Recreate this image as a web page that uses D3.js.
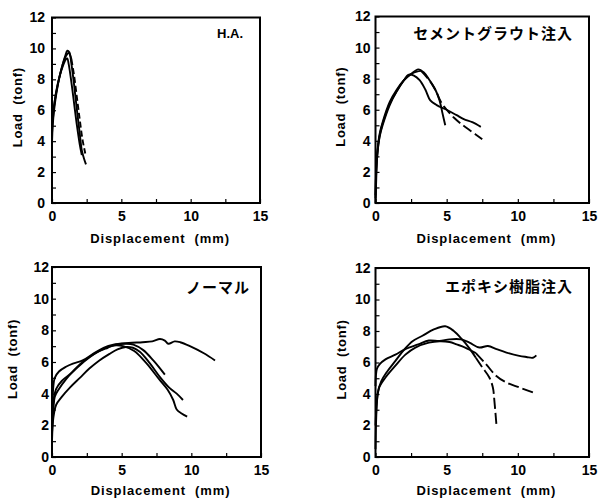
<!DOCTYPE html>
<html>
<head>
<meta charset="utf-8">
<script src="https://cdn.jsdelivr.net/npm/d3@7"></script>
<style>
  body { margin: 0; background: #fff; }
  svg text { font-family: "Liberation Sans", Arial, sans-serif; font-weight: bold; fill: #000; }
</style>
</head>
<body>
<svg id="chart"></svg>
<script>
let svgWidth = 600, svgHeight = 499

// tick values
const xTicks = [0, 5, 10, 15]
const yTicks = [0, 2, 4, 6, 8, 10, 12]
const xMinor = [0, 2.5, 5, 7.5, 10, 12.5, 15]
const yMinor = d3.range(0, 13, 1)

// H.A.  [displacement mm, load tonf]
const haA = [[0,3.8],[0.05,5.0],[0.15,6.0],[0.3,7.0],[0.5,8.0],[0.75,8.9],[0.95,9.5],[1.1,9.85],[1.25,9.75],[1.4,9.0],[1.6,7.6],[1.8,6.0],[2.0,4.5],[2.15,3.4],[2.3,2.9],[2.45,2.5]]
const haB = [[0,4.5],[0.1,5.8],[0.3,7.2],[0.55,8.2],[0.8,8.9],[1.0,9.3],[1.1,9.35],[1.2,9.0],[1.4,7.8],[1.6,6.4],[1.8,5.0],[2.0,3.8],[2.15,3.1]]
const haC = [[0,5.2],[0.2,6.6],[0.45,7.8],[0.75,8.9],[1.0,9.5],[1.2,9.7],[1.4,9.3],[1.6,8.2],[1.8,6.8],[2.0,5.4],[2.2,4.1],[2.4,3.2]]

// セメントグラウト注入
const sgA = [[0,0],[0.05,1.5],[0.1,2.8],[0.2,3.8],[0.35,4.6],[0.6,5.4],[1.0,6.4],[1.5,7.2],[2.0,7.9],[2.5,8.3],[3.0,8.6],[3.4,8.4],[3.8,7.9],[4.2,7.3],[4.5,6.6],[4.7,5.8],[4.9,5.0]]
const sgB = [[0,0.5],[0.05,2.0],[0.15,3.3],[0.3,4.3],[0.5,5.0],[1.0,6.3],[1.5,7.2],[2.0,7.9],[2.3,8.25],[2.7,8.2],[3.1,7.9],[3.5,7.3],[3.85,6.6],[4.3,6.3],[5.0,6.0],[5.7,5.65],[6.2,5.4],[6.8,5.2],[7.4,4.9]]
const sgC = [[0,0.3],[0.05,2.2],[0.15,3.5],[0.3,4.5],[0.5,5.2],[1.0,6.5],[1.5,7.3],[2.0,7.9],[2.5,8.3],[2.9,8.45],[3.2,8.5],[3.6,8.1],[4.0,7.6],[4.3,7.1],[4.6,6.5],[5.0,6.0],[5.5,5.5],[6.0,5.1],[6.6,4.7],[7.5,4.1]]

// ノーマル
const nmA = [[0,2.0],[0.1,4.5],[0.2,5.0],[0.5,5.4],[1.0,5.7],[1.5,5.9],[2.2,6.1],[3.0,6.55],[3.7,6.9],[4.4,7.1],[5.5,7.2],[6.5,7.25],[7.2,7.3],[7.75,7.45],[8.1,7.35],[8.35,7.15],[8.8,7.3],[9.2,7.25],[9.9,7.0],[10.9,6.55],[11.7,6.1]]
const nmB = [[0,1.5],[0.1,3.0],[0.2,3.8],[0.5,4.3],[1.0,4.9],[1.7,5.6],[2.5,6.2],[3.2,6.6],[4.0,6.9],[4.6,7.1],[5.3,7.15],[5.84,7.1],[6.55,6.75],[7.27,6.1],[7.75,5.6],[8.1,5.2]]
const nmC = [[0,1.0],[0.1,2.5],[0.3,3.3],[0.7,3.8],[1.3,4.4],[2.0,5.0],[2.7,5.6],[3.4,6.1],[4.1,6.5],[4.7,6.8],[5.3,6.95],[5.8,6.9],[6.3,6.65],[7.0,5.95],[7.75,5.05],[8.45,4.35],[8.95,4.0],[9.4,3.6]]
const nmD = [[0,2.5],[0.1,3.5],[0.3,4.3],[0.7,4.8],[1.4,5.3],[2.0,5.8],[2.7,6.3],[3.4,6.7],[4.0,6.95],[4.6,7.05],[5.1,7.0],[5.9,6.7],[6.8,5.9],[7.7,4.9],[8.3,4.25],[8.7,3.6],[8.95,3.0],[9.3,2.75],[9.7,2.55]]

// エポキシ樹脂注入
const epA = [[0,0.5],[0.05,2.5],[0.15,4.0],[0.4,4.8],[0.8,5.4],[1.4,6.1],[2.0,6.8],[2.6,7.35],[3.3,7.7],[4.1,8.1],[4.9,8.3],[5.5,8.0],[6.1,7.45],[6.6,6.9],[7.05,6.3],[7.5,5.7],[8.0,5.05],[8.25,4.4],[8.35,3.6],[8.5,2.0]]
const epB = [[0,4.5],[0.1,5.6],[0.3,5.9],[0.7,6.2],[1.4,6.5],[2.1,6.85],[3.0,7.15],[3.75,7.4],[4.5,7.37],[5.2,7.47],[6.0,7.47],[6.6,7.26],[7.3,6.95],[7.9,7.05],[8.5,6.85],[9.2,6.63],[10.1,6.42],[10.6,6.35],[11.06,6.3],[11.3,6.45]]
const epC = [[0,2.0],[0.1,3.5],[0.25,4.4],[0.7,5.05],[1.4,5.8],[2.1,6.5],[2.8,6.95],[3.75,7.26],[4.5,7.35],[5.2,7.3],[5.7,7.15],[6.3,6.95],[7.05,6.6],[7.76,5.9],[8.47,5.16],[9.17,4.74],[10.1,4.42],[11.2,4.05]]

// dash: null = solid, otherwise [index where dashing starts, pattern]
const panels = [
  { title: 'H.A.', cjk: false, curves: [haA, haB, haC], dash: [null, null, [6, '6,3']],
    x0: 52, x1: 260, y0: 17.5, y1: 203, tickPad: 7, ylabX: 17, xlabY: 243, titleX: 243, titleY: 38 },
  { title: 'セメントグラウト注入', cjk: true, curves: [sgA, sgB, sgC], dash: [null, null, [10, '10,4']],
    x0: 375.5, x1: 589, y0: 16.5, y1: 203, tickPad: 5, ylabX: 340, xlabY: 243, titleX: 573, titleY: 39 },
  { title: 'ノーマル', cjk: true, curves: [nmA, nmB, nmC, nmD], dash: [null, null, null, null],
    x0: 52, x1: 261, y0: 267, y1: 457, tickPad: 3, ylabX: 12, xlabY: 495, titleX: 250, titleY: 293 },
  { title: 'エポキシ樹脂注入', cjk: true, curves: [epA, epB, epC], dash: [[14, '11,4'], null, [12, '11,4']],
    x0: 375.5, x1: 589, y0: 268, y1: 457, tickPad: 5, ylabX: 341, xlabY: 495, titleX: 573, titleY: 292 }
]

let svg = d3.select('#chart').attr('width', svgWidth).attr('height', svgHeight)

function drawPanel(p){
  let g = svg.append('g')
  let x = d3.scaleLinear().domain([0, 15]).range([p.x0, p.x1])
  let y = d3.scaleLinear().domain([0, 12]).range([p.y1, p.y0])

  // inward minor/major ticks on left and bottom
  g.append('g').attr('transform', `translate(${p.x0},0)`)
    .call(d3.axisRight(y).tickValues(yMinor).tickSize(4).tickFormat(''))
    .call(a => a.select('.domain').remove())
    .selectAll('line').attr('stroke-width', 1.2)
  g.append('g').attr('transform', `translate(0,${p.y1})`)
    .call(d3.axisTop(x).tickValues(xMinor).tickSize(4).tickFormat(''))
    .call(a => a.select('.domain').remove())
    .selectAll('line').attr('stroke-width', 1.2)

  // tick labels
  let yl = g.append('g').attr('transform', `translate(${p.x0 - p.tickPad},0)`)
    .call(d3.axisLeft(y).tickValues(yTicks).tickSize(0).tickPadding(0))
  yl.select('.domain').remove()
  yl.selectAll('text').attr('font-size', 14).attr('font-family', null)
  let xl = g.append('g').attr('transform', `translate(0,${p.y1 + 8})`)
    .call(d3.axisBottom(x).tickValues(xTicks).tickSize(0).tickPadding(0))
  xl.select('.domain').remove()
  xl.selectAll('text').attr('font-size', 14).attr('font-family', null)

  // frame
  g.append('rect').attr('x', p.x0).attr('y', p.y0)
    .attr('width', p.x1 - p.x0).attr('height', p.y1 - p.y0)
    .attr('fill', 'none').attr('stroke', '#000').attr('stroke-width', 2)

  let line = d3.line().x(d => x(d[0])).y(d => y(d[1])).curve(d3.curveCatmullRom)
  p.curves.forEach((c, i) => {
    let dd = p.dash[i]
    let parts = dd ? [[c.slice(0, dd[0] + 1), null], [c.slice(dd[0]), dd[1]]] : [[c, null]]
    parts.forEach(([seg, pattern]) => {
      g.append('path').datum(seg).attr('d', line)
        .attr('fill', 'none').attr('stroke', '#000').attr('stroke-width', 1.9)
        .attr('stroke-linejoin', 'round')
        .attr('stroke-dasharray', pattern)
    })
  })

  // labels
  g.append('text').attr('x', (p.x0 + p.x1) / 2 + 4).attr('y', p.xlabY)
    .attr('text-anchor', 'middle').attr('font-size', 13).attr('letter-spacing', 0.9)
    .text('Displacement\u00a0\u00a0(mm)')
  g.append('text').attr('transform', `translate(${p.ylabX + 5},${(p.y0 + p.y1) / 2 - 3}) rotate(-90)`)
    .attr('text-anchor', 'middle').attr('font-size', 13).attr('letter-spacing', 0.7)
    .text('Load\u00a0\u00a0(tonf)')
  g.append('text').attr('x', p.titleX).attr('y', p.titleY).attr('text-anchor', 'end')
    .attr('font-size', p.cjk ? 15 : 13).attr('letter-spacing', p.cjk ? 1 : 0)
    .style('font-family', p.cjk ? '"Noto Sans CJK JP", sans-serif' : null)
    .text(p.title)
}

panels.forEach(drawPanel)
</script>
</body>
</html>
